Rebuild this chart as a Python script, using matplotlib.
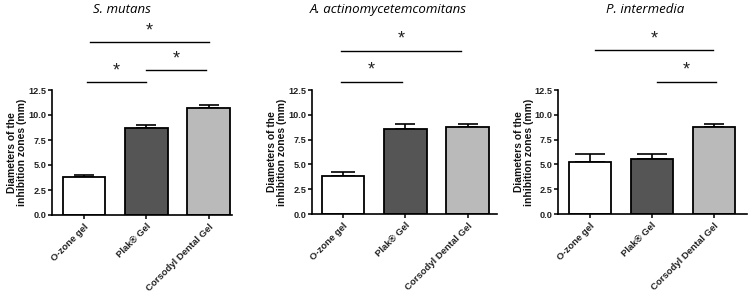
import matplotlib
matplotlib.use("Agg")
import matplotlib.pyplot as plt

categories = ["O-zone gel", "Plak® Gel", "Corsodyl Dental Gel"]
titles = ["S. mutans", "A. actinomycetemcomitans", "P. intermedia"]

means_smutans = [3.8, 8.75, 10.75]
err_smutans = [0.2, 0.28, 0.25]
means_aact = [3.85, 8.6, 8.8]
err_aact = [0.37, 0.45, 0.27]
means_pint = [5.25, 5.5, 8.75]
err_pint = [0.78, 0.52, 0.3]

# significance brackets: (x_start, x_end, y)
sig_smutans = [(0.1, 2.0, 17.3), (0.05, 0.99, 13.3), (1.0, 1.95, 14.5)]
sig_aact = [(-0.03, 1.9, 16.45), (-0.03, 0.94, 13.35)]
sig_pint = [(0.09, 1.99, 16.5), (1.08, 2.03, 13.35)]

yticks = [0.0, 2.5, 5.0, 7.5, 10.0, 12.5]

bar_colors = ["#ffffff", "#555555", "#bababa"]

panels = [
    dict(means=means_smutans, errs=err_smutans, sig=sig_smutans, title=titles[0],
         rect=[51.7, 231.7, 215, 90], xlim=(-0.52, 2.37), caps=[7.5, 7.5, 7.5], tx=122),
    dict(means=means_aact, errs=err_aact, sig=sig_aact, title=titles[1],
         rect=[311.7, 496.7, 214, 90], xlim=(-0.51, 2.47), caps=[8.5, 7.5, 7.5], tx=388),
    dict(means=means_pint, errs=err_pint, sig=sig_pint, title=titles[2],
         rect=[558.3, 746.5, 214, 90], xlim=(-0.51, 2.53), caps=[11, 11, 7.5], tx=645),
]

W, H = 748, 295
fig = plt.figure(figsize=(W / 100, H / 100), dpi=100)

for p in panels:
    l, r, b, t = p["rect"]
    ax = fig.add_axes([l / W, 1 - b / H, (r - l) / W, (b - t) / H])
    x = list(range(len(categories)))
    ax.bar(x, p["means"], width=0.68, color=bar_colors, edgecolor="black",
           linewidth=1.3, zorder=2)
    for xi, m, e, c in zip(x, p["means"], p["errs"], p["caps"]):
        ax.errorbar([xi], [m], yerr=[[0], [e]], fmt="none", ecolor="black",
                    elinewidth=1.2, capsize=c, capthick=1.2, zorder=1)
    ax.set_xlim(*p["xlim"])
    ax.set_ylim(0, 12.5)
    ax.set_yticks(yticks)
    ax.set_yticklabels([f"{v:.1f}" for v in yticks], fontsize=6.6,
                       fontweight="bold", family="Liberation Sans")
    ax.set_xticks(x)
    ax.set_xticklabels(categories, rotation=45, ha="right", rotation_mode="anchor",
                       fontsize=6.8, fontweight="bold", family="Liberation Sans")
    ax.tick_params(axis="both", length=3, width=1.1, colors="black")
    ax.tick_params(axis="y", pad=1)
    ax.tick_params(axis="x", pad=2)
    for lab in ax.get_yticklabels() + ax.get_xticklabels():
        lab.set_color("#222222")
    for s in ["top", "right"]:
        ax.spines[s].set_visible(False)
    for s in ["left", "bottom"]:
        ax.spines[s].set_linewidth(1.2)
    ax.set_ylabel("Diameters of the\ninhibition zones (mm)", fontsize=7.4,
                  fontweight="bold", family="Liberation Sans", linespacing=0.95,
                  color="#111111", va="center")
    ax.yaxis.set_label_coords(-34.5 / (r - l), 0.5)
    for x0, x1, y in p["sig"]:
        ax.plot([x0, x1], [y, y], color="black", linewidth=1.0, clip_on=False)
        ax.text((x0 + x1) / 2, y + 0.3, "*", ha="center", va="bottom",
                fontsize=13, color="#222222", family="Liberation Sans",
                clip_on=False)
    fig.text(p["tx"] / W, 1 - 9.5 / H, p["title"], ha="center", va="center",
             fontsize=9.5, style="italic", family="Open Sans")

fig.savefig("out.png", dpi=100)
